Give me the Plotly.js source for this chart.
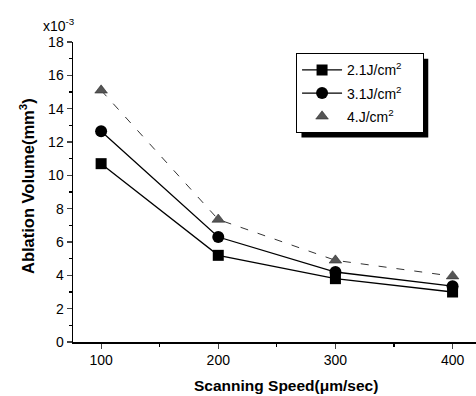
<!DOCTYPE html>
<html>
<head>
<meta charset="utf-8">
<script src="https://cdn.plot.ly/plotly-3.0.1.min.js"></script>
<style>html,body{margin:0;padding:0;background:#fff;}#chart{width:476px;height:396px;}</style>
</head>
<body>
<div id="chart"></div>
<script>
var speeds = [100, 200, 300, 400];
var vol21 = [10.7, 5.2, 3.8, 3.0];
var vol31 = [12.65, 6.3, 4.2, 3.35];
var vol40 = [15.1, 7.35, 4.9, 3.95];
var seriesNames = ['2.1J/cm<sup>2</sup>', '3.1J/cm<sup>2</sup>', '4.J/cm<sup>2</sup>'];
var yTicks = [0, 2, 4, 6, 8, 10, 12, 14, 16, 18];
var xTicks = [100, 200, 300, 400];
var xTitle = 'Scanning Speed(μm/sec)';
var yTitle = 'Ablation Volume(mm<sup>3</sup>)';

var fam = 'Liberation Sans, Arial, sans-serif';
var pad = '&nbsp;&nbsp;&nbsp;&nbsp;';

var traces = [
  {x: speeds, y: vol21, name: seriesNames[0] + pad, legendgroup: 'a', mode: 'lines+markers',
   line: {color: '#000', width: 1.3},
   marker: {symbol: 'square', size: 11, color: '#000'}},
  {x: speeds, y: vol31, name: seriesNames[1] + pad, legendgroup: 'b', mode: 'lines+markers',
   line: {color: '#000', width: 1.3},
   marker: {symbol: 'circle', size: 12, color: '#000'}},
  {x: speeds, y: vol40, name: seriesNames[2], legendgroup: 'c', mode: 'lines', showlegend: false,
   line: {color: '#333', width: 1, dash: '8px,10px'}},
  {x: speeds, y: vol40, name: seriesNames[2] + pad, legendgroup: 'c', mode: 'markers',
   marker: {symbol: 'triangle-up', size: 11, color: '#555', line: {color: '#222', width: 0.5}}}
];

var layout = {
  width: 476, height: 396,
  margin: {l: 73, r: 0, t: 42, b: 54},
  paper_bgcolor: '#fff', plot_bgcolor: '#fff',
  font: {family: fam, color: '#000'},
  showlegend: true,
  legend: {x: 0.553, y: 0.963, xanchor: 'left', yanchor: 'top',
           bgcolor: '#fff', bordercolor: '#000', borderwidth: 1.2,
           font: {family: fam, size: 14, color: '#000'},
           itemwidth: 40, tracegroupgap: 2},
  xaxis: {range: [76, 420], tickvals: xTicks, ticks: 'outside', ticklen: 5, tickwidth: 1.2,
          showline: true, linecolor: '#000', linewidth: 1.5, showgrid: false, zeroline: false,
          tickfont: {size: 14, family: fam},
          minor: {dtick: 50, tick0: 0, ticks: 'outside', ticklen: 3, tickcolor: '#000'}},
  yaxis: {range: [0, 18], tickvals: yTicks, ticks: 'outside', ticklen: 5, tickwidth: 1.2,
          showline: true, linecolor: '#000', linewidth: 1.5, showgrid: false, zeroline: false,
          tickfont: {size: 14, family: fam},
          minor: {dtick: 1, ticks: 'outside', ticklen: 3, tickcolor: '#000'}},
  shapes: [],
  annotations: [
    {xref: 'paper', yref: 'paper', x: -0.08, y: 1.02, xanchor: 'left', yanchor: 'bottom',
     text: 'x10<sup>-3</sup>', showarrow: false, font: {size: 14, family: fam}},
    {xref: 'paper', yref: 'paper', x: (286 - 73) / 403, y: -(385 - 342) / 300, xanchor: 'center', yanchor: 'middle',
     text: '<b>' + xTitle + '</b>', showarrow: false, font: {size: 15.5, family: fam}},
    {xref: 'paper', yref: 'paper', x: -(73 - 27) / 403, y: (342 - 186) / 300, xanchor: 'center', yanchor: 'middle',
     textangle: -90, text: '<b>' + yTitle + '</b>', showarrow: false, font: {size: 16.5, family: fam}}
  ]
};

Plotly.newPlot('chart', traces, layout, {staticPlot: true, displayModeBar: false}).then(function (gd) {
  var bg = gd.querySelector('.legend .bg');
  if (!bg) return;
  var r = bg.getBoundingClientRect();
  var c = gd.getBoundingClientRect();
  var fl = gd._fullLayout, m = fl.margin;
  var pw = fl.width - m.l - m.r, ph = fl.height - m.t - m.b;
  var off = 5;
  var x0 = (r.left - c.left + off - m.l) / pw, x1 = (r.right - c.left + off - m.l) / pw;
  var y0 = (fl.height - m.b - (r.bottom - c.top + off)) / ph, y1 = (fl.height - m.b - (r.top - c.top + off)) / ph;
  Plotly.relayout(gd, {shapes: [{type: 'rect', xref: 'paper', yref: 'paper', x0: x0, x1: x1, y0: y0, y1: y1,
    fillcolor: '#000', line: {width: 0}, layer: 'above'}]});
});
</script>
</body>
</html>
